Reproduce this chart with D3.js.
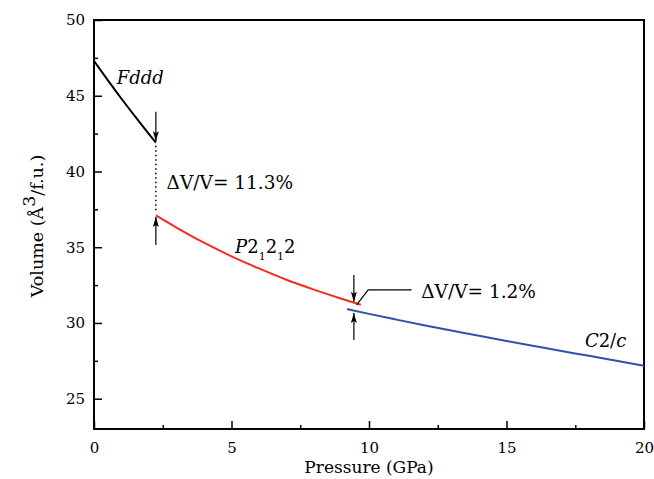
<!DOCTYPE html>
<html>
<head>
<meta charset="utf-8">
<script src="https://cdn.jsdelivr.net/npm/d3@7"></script>
<style>
  body { margin: 0; background: #fff; }
</style>
</head>
<body>
<div id="chart"></div>
<script>
// Fddd phase
var fdddP = [0, 0.5, 1.0, 1.5, 2.0, 2.25];
var fdddV = [47.3, 46.03, 44.8, 43.62, 42.47, 41.91];
// P212121 phase
var p212P = [2.25, 3, 4, 5, 6, 7, 8, 9, 9.7];
var p212V = [37.1, 36.3, 35.3, 34.4, 33.6, 32.85, 32.2, 31.6, 31.2];
// C2/c phase
var c2cP = [9.2, 10, 11, 12, 13, 14, 15, 16, 17, 18, 19, 20];
var c2cV = [30.92, 30.6, 30.22, 29.85, 29.5, 29.15, 28.81, 28.48, 28.15, 27.83, 27.5, 27.17];

var xTicks = [0, 5, 10, 15, 20];
var xMinor = [2.5, 7.5, 12.5, 17.5];
var yTicks = [25, 30, 35, 40, 45, 50];
var yMinor = [27.5, 32.5, 37.5, 42.5, 47.5];

// transition arrows: [pressure, from volume, to volume]
var arrows = [
  [2.25, 43.95, 42.0],
  [2.25, 35.15, 37.0],
  [9.45, 33.17, 31.4],
  [9.45, 28.88, 30.66]
];

var FONT = "DejaVu Serif";

var W = 654, H = 479;
var margin = {top: 20, right: 10, bottom: 50, left: 94};
var width = W - margin.left - margin.right,
    height = H - margin.top - margin.bottom;

var svg = d3.select("#chart").append("svg")
  .attr("width", W)
  .attr("height", H)
  .attr("font-family", FONT);

svg.append("defs").append("marker")
  .attr("id", "head")
  .attr("markerUnits", "userSpaceOnUse")
  .attr("markerWidth", 10)
  .attr("markerHeight", 7)
  .attr("refX", 10)
  .attr("refY", 3.5)
  .attr("orient", "auto")
  .append("path")
  .attr("d", "M0,0.5 L10,3.5 L0,6.5 L2,3.5 z")
  .attr("fill", "#000");

var g = svg.append("g")
  .attr("transform", "translate(" + margin.left + "," + margin.top + ")");

var x = d3.scaleLinear().domain([0, 20]).range([0, width]);
var y = d3.scaleLinear().domain([23, 50]).range([height, 0]);

// axes
var xAxis = g.append("g")
  .attr("transform", "translate(0," + height + ")")
  .call(d3.axisBottom(x).tickValues(xTicks).tickSize(-8).tickPadding(13));
xAxis.select(".domain").remove();
xAxis.selectAll("text").attr("font-size", 15);

var xAxisMinor = g.append("g")
  .attr("transform", "translate(0," + height + ")")
  .call(d3.axisBottom(x).tickValues(xMinor).tickSize(-4).tickFormat(""));
xAxisMinor.select(".domain").remove();

var yAxis = g.append("g")
  .call(d3.axisLeft(y).tickValues(yTicks).tickSize(-8).tickPadding(9));
yAxis.select(".domain").remove();
yAxis.selectAll("text").attr("font-size", 15);

var yAxisMinor = g.append("g")
  .call(d3.axisLeft(y).tickValues(yMinor).tickSize(-4).tickFormat(""));
yAxisMinor.select(".domain").remove();

g.selectAll(".tick line").attr("stroke", "#000").attr("stroke-width", 1.5);

g.append("rect")
  .attr("width", width)
  .attr("height", height)
  .attr("fill", "none")
  .attr("stroke", "#000")
  .attr("stroke-width", 2);

// curves
var line = d3.line()
  .x(function(d) { return x(d[0]); })
  .y(function(d) { return y(d[1]); })
  .curve(d3.curveMonotoneX);

var series = [
  [fdddP, fdddV, "#000"],
  [p212P, p212V, "#f52a20"],
  [c2cP, c2cV, "#3050ad"]
];
series.forEach(function(s) {
  var data = s[0].map(function(p, i) { return [p, s[1][i]]; });
  g.append("path")
    .datum(data)
    .attr("fill", "none")
    .attr("stroke", s[2])
    .attr("stroke-width", 2)
    .attr("d", line);
});

// dotted drop line
g.append("line")
  .attr("x1", x(2.25)).attr("x2", x(2.25))
  .attr("y1", y(41.7)).attr("y2", y(37.3))
  .attr("stroke", "#000")
  .attr("stroke-width", 1.5)
  .attr("stroke-dasharray", "1.5,3");

arrows.forEach(function(a) {
  g.append("line")
    .attr("x1", x(a[0])).attr("x2", x(a[0]))
    .attr("y1", y(a[1])).attr("y2", y(a[2]))
    .attr("stroke", "#000")
    .attr("stroke-width", 1.2)
    .attr("marker-end", "url(#head)");
});

// leader to the 1.2% label
g.append("path")
  .attr("d", d3.line()([[x(9.55), y(31.2)], [x(9.97), y(32.18)], [x(11.55), y(32.18)]]))
  .attr("fill", "none")
  .attr("stroke", "#000")
  .attr("stroke-width", 1.2);

// labels
g.append("text")
  .attr("x", x(2.64)).attr("y", y(38.85))
  .attr("font-size", 18.5)
  .text("\u0394V/V= 11.3%");

g.append("text")
  .attr("x", x(11.9)).attr("y", y(31.65))
  .attr("font-size", 18.5)
  .text("\u0394V/V= 1.2%");

g.append("text")
  .attr("x", x(0.83)).attr("y", y(45.8))
  .attr("font-size", 18)
  .attr("font-style", "italic")
  .text("Fddd");

var pl = g.append("text")
  .attr("x", x(5.13)).attr("y", y(34.62))
  .attr("font-size", 18);
pl.append("tspan").attr("font-style", "italic").text("P");
pl.append("tspan").text("2");
pl.append("tspan").attr("dy", 7).attr("font-size", 11).text("1");
pl.append("tspan").attr("dy", -7).text("2");
pl.append("tspan").attr("dy", 7).attr("font-size", 11).text("1");
pl.append("tspan").attr("dy", -7).text("2");

var cl = g.append("text")
  .attr("x", x(17.85)).attr("y", y(28.44))
  .attr("font-size", 18);
cl.append("tspan").attr("font-style", "italic").text("C");
cl.append("tspan").text("2/");
cl.append("tspan").attr("font-style", "italic").text("c");

// axis titles
svg.append("text")
  .attr("x", margin.left + width / 2)
  .attr("y", 473)
  .attr("text-anchor", "middle")
  .attr("font-size", 17)
  .text("Pressure (GPa)");

var yt = svg.append("text")
  .attr("transform", "translate(43,226) rotate(-90)")
  .attr("text-anchor", "middle")
  .attr("font-size", 17.5);
yt.append("tspan").text("Volume (\u00C5");
yt.append("tspan").attr("dy", -8).text("3");
yt.append("tspan").attr("dy", 8).text("/f.u.)");

// serif everywhere, including the axis labels d3 sets to sans-serif
svg.selectAll("text").attr("font-family", FONT).attr("fill", "#000");
</script>
</body>
</html>
